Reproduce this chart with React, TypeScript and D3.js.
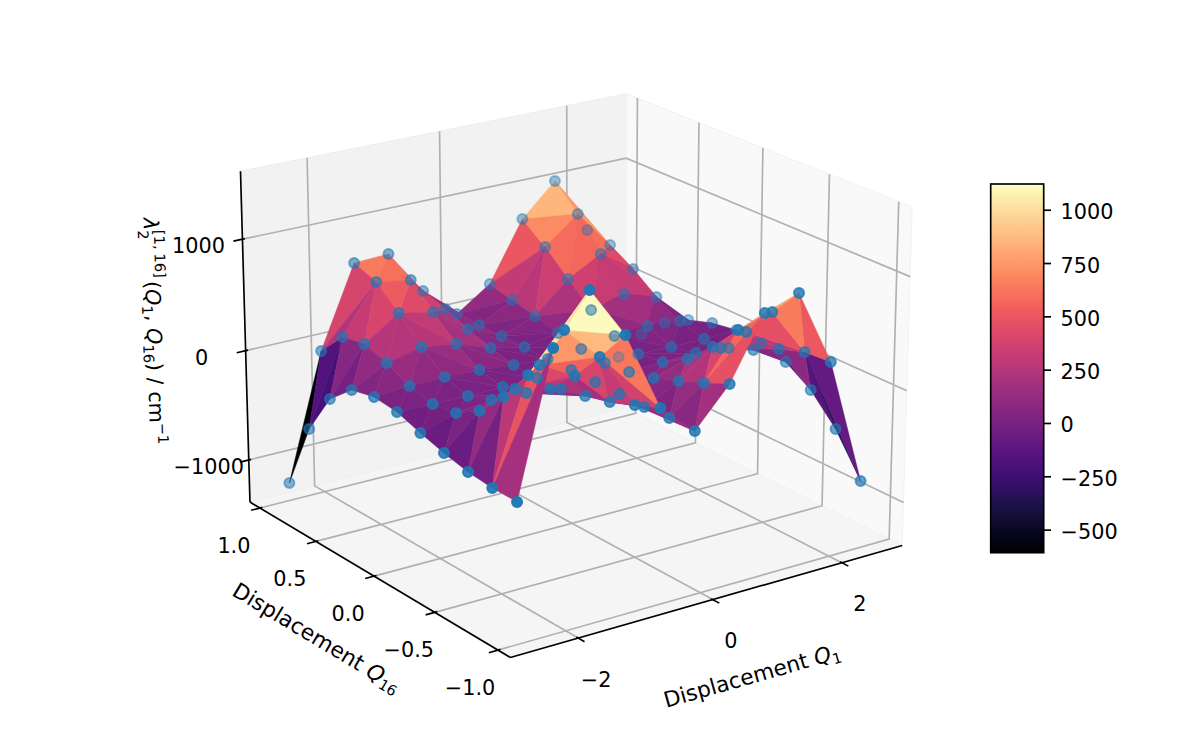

import { useMemo } from "react";
import * as d3 from "d3";

// grid of the scan, one row of energies per Q1 value
const q1Values = [-2.588, -2.068, -1.549, -1.03, -0.51, 0.009, 0.528, 1.048, 1.567, 2.086, 2.606];
const q16Values = [0.963, 0.772, 0.582, 0.391, 0.201, 0.01, -0.181, -0.371, -0.562, -0.752, -0.943];
const energies = [
    [-1196, -589, -210, -23, 22, -2, -76, -140, -192, -215, -220],
    [-61, 169, 209, 143, 44, -8, 21, 147, 375, 668, 998],
    [666, 593, 414, 213, 50, -13, 59, 262, 574, 974, 1409],
    [680, 542, 353, 167, 38, -8, 45, 187, 406, 673, 962],
    [274, 209, 128, 58, 9, -2, 6, 51, 105, 187, 268],
    [-8, -8, -8, -5, -10, -5, -7, -7, -14, -2, -6],
    [200, 151, 104, 50, 7, -15, 8, 60, 139, 228, 325],
    [733, 570, 373, 189, 53, -7, 24, 155, 365, 616, 864],
    [1019, 807, 534, 265, 72, -17, 32, 181, 425, 702, 966],
    [499, 454, 328, 168, 47, -16, 5, 90, 202, 279, 295],
    [-773, -451, -245, -116, -43, -6, -22, -91, -240, -484, -841],
];
// which way each grid cell is split in two: A joins (i,j)-(i+1,j+1), B joins (i+1,j)-(i,j+1)
const cellSplits = [
    "BBBBBBBBBA",
    "ABBBBBBBBA",
    "BBAAAAAAAA",
    "BBAAAAABBA",
    "AAAABBBBBA",
    "AAAABBBBBB",
    "ABAAABBBBA",
    "ABBAAAAABA",
    "ABABBBBAAB",
    "ABBBBBBBBA",
];

const q1Ticks = [-2, 0, 2];
const q16Ticks = [1, 0.5, 0, -0.5, -1];
const energyTicks = [1000, 0, -1000];
const colorTicks = [1000, 750, 500, 250, 0, -250, -500];

const q1Lim = [-2.976, 2.967];
const q16Lim = [-1.095, 1.091];
const energyLim = [-1390, 1600];
const colorLim = [-606, 1123];

// view of the 3d box
const ELEV = (20.073 * Math.PI) / 180;
const AZIM = (-125.079 * Math.PI) / 180;
const DIST = 10;
const BOX = [1.143, 1.143, 0.857];
const SCALE = 4155.885;
const CENTER = [571.895, 358.673];

const FONT = "DejaVu Sans";
const FS = 20.8;
const LABEL_FS = 21.7;
const SUB = 14.6;
const minus = (s: string) => s.replace("-", "\u2212");

const xScale = d3.scaleLinear().domain(q1Lim).range([0, BOX[0]]);
const yScale = d3.scaleLinear().domain(q16Lim).range([0, BOX[1]]);
const zScale = d3.scaleLinear().domain(energyLim).range([0, BOX[2]]);
const colorScale = d3.scaleSequential(d3.interpolateMagma).domain(colorLim);
const barScale = d3.scaleLinear().domain(colorLim).range([552.7, 184]);

const n = [Math.cos(ELEV) * Math.cos(AZIM), Math.cos(ELEV) * Math.sin(AZIM), Math.sin(ELEV)];
const ul = Math.hypot(n[0], n[1]);
const u = [-n[1] / ul, n[0] / ul, 0];
const v = [n[1] * u[2] - n[2] * u[1], n[2] * u[0] - n[0] * u[2], n[0] * u[1] - n[1] * u[0]];

// returns screen x, screen y and distance from the eye
function project(q1: number, q16: number, e: number) {
    const dx = xScale(q1) - BOX[0] / 2 - DIST * n[0];
    const dy = yScale(q16) - BOX[1] / 2 - DIST * n[1];
    const dz = zScale(e) - BOX[2] / 2 - DIST * n[2];
    const px = u[0] * dx + u[1] * dy;
    const py = v[0] * dx + v[1] * dy + v[2] * dz;
    const pz = -(n[0] * dx + n[1] * dy + n[2] * dz);
    return [CENTER[0] + (SCALE * px) / pz, CENTER[1] - (SCALE * py) / pz, pz];
}

const polyPath = (pts: number[][]) =>
    d3.line()(
        pts.map((p) => {
            const s = project(p[0], p[1], p[2]);
            return [s[0], s[1]] as [number, number];
        })
    );

const [x0, x1] = q1Lim;
const [y0, y1] = q16Lim;
const [z0, z1] = energyLim;
const xSpan = x1 - x0;
const ySpan = y1 - y0;

function Label3d({ x, y, rotate, children }: { x: number; y: number; rotate: number; children: any }) {
    return (
        <text
            transform={`translate(${x},${y}) rotate(${rotate})`}
            fontFamily={FONT}
            fontSize={LABEL_FS}
            textAnchor="middle"
            fill="#000"
        >
            {children}
        </text>
    );
}

export default function App() {
    const points = useMemo(
        () => q1Values.flatMap((q1, i) => q16Values.map((q16, j) => [q1, q16, energies[i][j]])),
        []
    );

    const faces = useMemo(() => {
        const at = (i: number, j: number) => [q1Values[i], q16Values[j], energies[i][j]];
        const out: { verts: number[][]; depth: number; mean: number }[] = [];
        const add = (verts: number[][]) => {
            const depth = d3.mean(verts, (p) => project(p[0], p[1], p[2])[2]) as number;
            const mean = d3.mean(verts, (p) => p[2]) as number;
            out.push({ verts, depth, mean });
        };
        cellSplits.forEach((row, i) => {
            row.split("").forEach((kind, j) => {
                if (kind === "A") {
                    add([at(i, j), at(i + 1, j), at(i + 1, j + 1)]);
                    add([at(i, j), at(i, j + 1), at(i + 1, j + 1)]);
                } else {
                    add([at(i, j), at(i + 1, j), at(i, j + 1)]);
                    add([at(i + 1, j), at(i, j + 1), at(i + 1, j + 1)]);
                }
            });
        });
        return out.sort((a, b) => b.depth - a.depth);
    }, []);

    const dots = useMemo(() => {
        const all = points.map((p) => project(p[0], p[1], p[2]));
        const shade = d3
            .scaleLinear()
            .domain(d3.extent(all, (s) => s[2]) as [number, number])
            .range([1, 0.3]);
        return all
            .map((s) => ({ x: s[0], y: s[1], depth: s[2], alpha: shade(s[2]) }))
            .sort((a, b) => b.depth - a.depth);
    }, [points]);

    const gradientStops = d3.range(0, 1.001, 0.02);

    return (
        <svg width={1196} height={749} style={{ position: "absolute", left: 0, top: 0, background: "#fff" }}>
            <defs>
                <linearGradient id="bar" x1="0" y1="1" x2="0" y2="0">
                    {gradientStops.map((t) => (
                        <stop key={t} offset={t} stopColor={d3.interpolateMagma(t)} />
                    ))}
                </linearGradient>
            </defs>

            {/* panes */}
            <path d={polyPath([[x0, y1, z0], [x1, y1, z0], [x1, y1, z1], [x0, y1, z1]]) + "Z"} fill="#f2f2f2" stroke="#eeeeee" />
            <path d={polyPath([[x1, y0, z0], [x1, y1, z0], [x1, y1, z1], [x1, y0, z1]]) + "Z"} fill="#f9f9f9" stroke="#f2f2f2" />
            <path d={polyPath([[x0, y0, z0], [x1, y0, z0], [x1, y1, z0], [x0, y1, z0]]) + "Z"} fill="#f5f5f5" stroke="#f0f0f0" />

            {/* grid */}
            <g fill="none" stroke="#b0b0b0" strokeWidth={1.67}>
                {q1Ticks.map((t) => (
                    <path key={t} d={polyPath([[t, y0, z0], [t, y1, z0], [t, y1, z1]]) as string} />
                ))}
                {q16Ticks.map((t) => (
                    <path key={t} d={polyPath([[x0, t, z0], [x1, t, z0], [x1, t, z1]]) as string} />
                ))}
                {energyTicks.map((t) => (
                    <path key={t} d={polyPath([[x0, y1, t], [x1, y1, t], [x1, y0, t]]) as string} />
                ))}
            </g>

            {/* axis lines and tick marks */}
            <g fill="none" stroke="#000" strokeWidth={1.67}>
                <path d={polyPath([[x0, y0, z0], [x1, y0, z0]]) as string} />
                <path d={polyPath([[x0, y0, z0], [x0, y1, z0]]) as string} />
                <path d={polyPath([[x0, y1, z0], [x0, y1, z1]]) as string} />
                {q1Ticks.map((t) => (
                    <path key={t} d={polyPath([[t, y0 + 0.006 * ySpan, z0], [t, y0 - 0.022 * ySpan, z0]]) as string} />
                ))}
                {q16Ticks.map((t) => (
                    <path key={t} d={polyPath([[x0 + 0.006 * xSpan, t, z0], [x0 - 0.022 * xSpan, t, z0]]) as string} />
                ))}
                {energyTicks.map((t) => (
                    <path key={t} d={polyPath([[x0 + 0.006 * xSpan, y1, t], [x0 - 0.022 * xSpan, y1, t]]) as string} />
                ))}
            </g>

            {/* surface */}
            <g>
                {faces.map((f, i) => (
                    <path
                        key={i}
                        d={polyPath(f.verts) + "Z"}
                        fill={colorScale(f.mean)}
                        stroke={colorScale(f.mean)}
                        strokeWidth={0.5}
                    />
                ))}
            </g>

            {/* sampled points */}
            <g>
                {dots.map((d, i) => (
                    <circle
                        key={i}
                        cx={d.x}
                        cy={d.y}
                        r={5}
                        fill="#1f77b4"
                        fillOpacity={d.alpha}
                        stroke="#1f77b4"
                        strokeOpacity={d.alpha}
                        strokeWidth={2}
                    />
                ))}
            </g>

            {/* tick labels */}
            <g fontFamily={FONT} fontSize={FS} textAnchor="middle" fill="#000">
                {q1Ticks.map((t) => {
                    const s = project(t, y0, z0);
                    return (
                        <text key={t} x={s[0] + 18} y={s[1] + 41} dy="0.36em">
                            {minus(String(t))}
                        </text>
                    );
                })}
                {q16Ticks.map((t) => {
                    const s = project(x0, t, z0);
                    return (
                        <text key={t} x={s[0] - (t === -1 ? 28 : 26)} y={s[1] + 37.5} dy="0.36em">
                            {minus(t.toFixed(1))}
                        </text>
                    );
                })}
                {energyTicks.map((t) => {
                    const s = project(x0, y1, t);
                    return (
                        <text key={t} x={s[0] - (t < 0 ? 40 : 44)} y={s[1] + 6.5} dy="0.36em">
                            {minus(String(t))}
                        </text>
                    );
                })}
            </g>

            {/* axis labels */}
            <Label3d x={754} y={683} rotate={-15.8}>
                Displacement <tspan fontStyle="italic">Q</tspan>
                <tspan fontSize={SUB} dy={4}>1</tspan>
            </Label3d>
            <Label3d x={313} y={644} rotate={31}>
                Displacement <tspan fontStyle="italic">Q</tspan>
                <tspan fontSize={SUB} dy={4}>16</tspan>
            </Label3d>
            <text transform="translate(143.5,218) rotate(88.3)" fontFamily={FONT} fontSize={FS} fill="#000">
                <tspan fontStyle="italic">λ</tspan>
                <tspan fontSize={SUB} dy={6}>2</tspan>
                <tspan fontSize={SUB} dx={-9.3} dy={-16}>[1,</tspan>
                <tspan fontSize={SUB} dx={4}>16]</tspan>
                <tspan dx={3} dy={10}>(</tspan>
                <tspan fontStyle="italic">Q</tspan>
                <tspan fontSize={SUB} dy={4}>1</tspan>
                <tspan dy={-4}>, </tspan>
                <tspan fontStyle="italic">Q</tspan>
                <tspan fontSize={SUB} dy={4}>16</tspan>
                <tspan dy={-4}>) / cm</tspan>
                <tspan fontSize={SUB} dy={-8}>{"\u22121"}</tspan>
            </text>

            {/* colorbar */}
            <rect x={990.7} y={184} width={53} height={368.7} fill="url(#bar)" stroke="#000" strokeWidth={1.67} />
            <g fontFamily={FONT} fontSize={FS} fill="#000">
                {colorTicks.map((t) => (
                    <g key={t}>
                        <line x1={1043.7} x2={1051} y1={barScale(t)} y2={barScale(t)} stroke="#000" strokeWidth={1.67} />
                        <text x={1060.5} y={barScale(t) + 1.5} dy="0.36em">
                            {minus(String(t))}
                        </text>
                    </g>
                ))}
            </g>
        </svg>
    );
}
